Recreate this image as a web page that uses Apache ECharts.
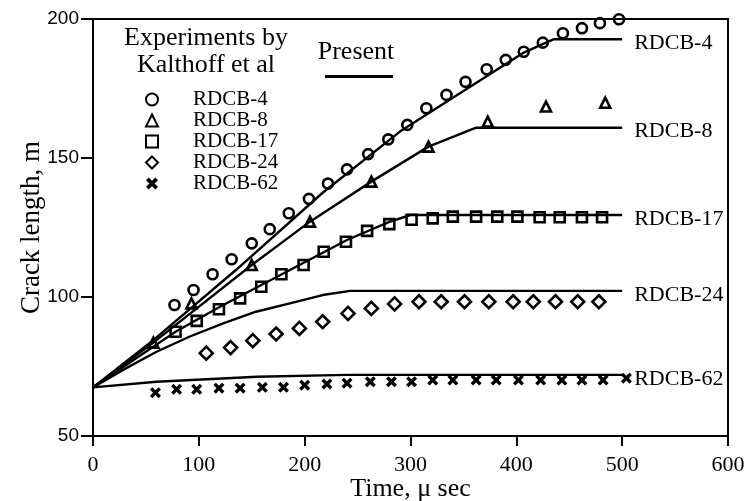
<!DOCTYPE html>
<html>
<head>
<meta charset="utf-8">
<script src="https://cdn.jsdelivr.net/npm/echarts@6/dist/echarts.min.js"></script>
<style>html,body{margin:0;padding:0;background:#fff}#c{width:748px;height:501px}</style>
</head>
<body>
<div id="c"></div>
<script>
// ---- Data ----
const xTicks = [0, 100, 200, 300, 400, 500, 600];
const yTicks = [50, 100, 150, 200];
const seriesNames = ['RDCB-4', 'RDCB-8', 'RDCB-17', 'RDCB-24', 'RDCB-62'];

// Experiments by Kalthoff et al (time μs, crack length)
const exp4 = [[77,97.1],[95,102.5],[113,108.2],[131,113.6],[150,119.3],[167,124.4],[185,130.1],[204,135.3],[222,140.8],[240,145.9],[260,151.4],[279,156.7],[297,161.9],[315,167.9],[334,172.7],[352,177.4],[372,181.9],[390,185.3],[407,188.2],[425,191.5],[444,194.9],[462,196.7],[479,198.5],[497,199.9]];
const exp8 = [[57,83.6],[93,97.7],[150,111.5],[205,127.1],[263,141.5],[317,154.1],[373,163.1],[428,168.5],[484,169.9]];
const exp17 = [[78,87.5],[98,91.4],[119,95.6],[139,99.5],[159,103.7],[178,108.2],[199,111.5],[218,116.3],[239,119.9],[259,123.8],[280,126.2],[301,127.8],[321,128.3],[340,128.9],[362,128.9],[382,128.9],[401,128.9],[422,128.7],[441,128.7],[462,128.7],[481,128.7]];
const exp24 = [[107,79.8],[130,81.8],[151,84.3],[173,86.7],[195,88.7],[217,91.1],[241,94.1],[263,95.9],[285,97.5],[308,98.3],[329,98.3],[351,98.3],[374,98.3],[397,98.3],[416,98.3],[437,98.3],[458,98.3],[478,98.3]];
const exp62 = [[59,65.6],[79,66.8],[98,66.8],[119,67.2],[139,67.2],[160,67.5],[180,67.5],[200,68.3],[221,68.7],[240,69.0],[262,69.5],[282,69.5],[301,69.5],[321,70.1],[340,70.1],[362,70.1],[381,70.1],[402,70.1],[423,70.1],[443,70.1],[462,70.1],[482,70.1],[504,70.8]];

// Present predictions
const pres4 = [[0,67.5],[57,84.5],[135,109.7],[217,137.5],[290,159.5],[406,187.7],[435,192.7],[500,192.7]];
const pres8 = [[0,67.5],[57,83.6],[150,111.5],[205,127.1],[263,141.5],[317,154.1],[362,160.9],[500,160.9]];
const pres17 = [[0,67.5],[78,87.5],[120,96.5],[160,104.5],[200,112.5],[240,120.5],[280,127],[300,129.5],[500,129.5]];
const pres24 = [[0,67.5],[28,73.7],[60,80.3],[91,85.7],[123,90.5],[154,94.7],[186,97.7],[217,100.7],[243,102.2],[500,102.2]];
const pres62 = [[0,67.5],[60,69.5],[155,71.3],[240,72],[500,72]];

const expData = [exp4, exp8, exp17, exp24, exp62];
const presData = [pres4, pres8, pres17, pres24, pres62];

// ---- Styles ----
const SERIF = 'Liberation Serif';
const crossPath = 'path://M0,2.2 L2.2,0 L5,2.8 L7.8,0 L10,2.2 L7.2,5 L10,7.8 L7.8,10 L5,7.2 L2.2,10 L0,7.8 L2.8,5 Z';
const symbols = ['circle', 'triangle', 'rect', 'diamond', crossPath];
const sizes = [10, 10, 10, 13, 11];

const series = [];
expData.forEach((d, i) => {
  const isCross = i === 4;
  series.push({
    name: seriesNames[i],
    type: 'scatter',
    data: d,
    symbol: symbols[i],
    symbolSize: sizes[i],
    z: 3,
    itemStyle: isCross ? { color: '#000', borderWidth: 0, opacity: 1 } :
      { color: 'rgba(255,255,255,0)', borderColor: '#000', borderWidth: 2.6, opacity: 1 },
    emphasis: { disabled: true }
  });
});
presData.forEach((d, i) => {
  series.push({
    name: 'present-' + seriesNames[i],
    type: 'line',
    data: d,
    symbol: 'none',
    z: 2,
    lineStyle: { color: '#000', width: 2.4 },
    endLabel: {
      show: true,
      formatter: () => seriesNames[i],
      color: '#000',
      fontFamily: SERIF,
      fontSize: 22,
      distance: 12,
      offset: [0, 4]
    },
    emphasis: { disabled: true }
  });
});

const chart = echarts.init(document.getElementById('c'), null, { renderer: 'canvas' });
chart.setOption({
  animation: false,
  backgroundColor: '#fff',
  grid: { left: 93, right: 20, top: 19, bottom: 65, outerBoundsMode: 'none', containLabel: false, show: true, borderColor: '#000', borderWidth: 2, backgroundColor: 'transparent' },
  xAxis: {
    type: 'value', min: xTicks[0], max: xTicks[xTicks.length - 1], interval: 100,
    name: 'Time, \u03bc sec', nameLocation: 'middle', nameGap: 40, nameMoveOverlap: false,
    nameTextStyle: { fontFamily: SERIF, fontSize: 26, color: '#000' },
    axisLine: { lineStyle: { color: '#000', width: 2 } },
    axisTick: { length: 10, lineStyle: { color: '#000', width: 2 } },
    axisLabel: { fontFamily: SERIF, fontSize: 22, color: '#000', margin: 18 },
    splitLine: { show: false }
  },
  yAxis: {
    type: 'value', min: yTicks[0], max: yTicks[yTicks.length - 1], interval: 50,
    name: 'Crack length, m', nameLocation: 'middle', nameGap: 48, nameMoveOverlap: false,
    nameTextStyle: { fontFamily: SERIF, fontSize: 27, color: '#000' },
    axisLine: { lineStyle: { color: '#000', width: 2 } },
    axisTick: { length: 12, lineStyle: { color: '#000', width: 2 } },
    axisLabel: { fontFamily: 'Liberation Sans', fontSize: 19, color: '#000', margin: 14 },
    splitLine: { show: false }
  },
  legend: {
    data: seriesNames,
    orient: 'vertical',
    left: 140, top: 84,
    itemWidth: 12, itemHeight: 12, itemGap: 0,
    selectedMode: false,
    textStyle: { fontFamily: SERIF, fontSize: 21, color: '#000', lineHeight: 21, padding: [0, 0, 0, 30] }
  },
  graphic: [
    { type: 'text', style: { text: 'Experiments by', x: 206, y: 38, fontFamily: SERIF, fontSize: 26, fill: '#000', align: 'center', verticalAlign: 'middle' } },
    { type: 'text', style: { text: 'Kalthoff et al', x: 206, y: 65, fontFamily: SERIF, fontSize: 26, fill: '#000', align: 'center', verticalAlign: 'middle' } },
    { type: 'text', style: { text: 'Present', x: 356, y: 52, fontFamily: SERIF, fontSize: 26, fill: '#000', align: 'center', verticalAlign: 'middle' } },
    { type: 'rect', shape: { x: 325, y: 75, width: 68, height: 3 }, style: { fill: '#000' } }
  ],
  series: series
});
</script>
</body>
</html>
